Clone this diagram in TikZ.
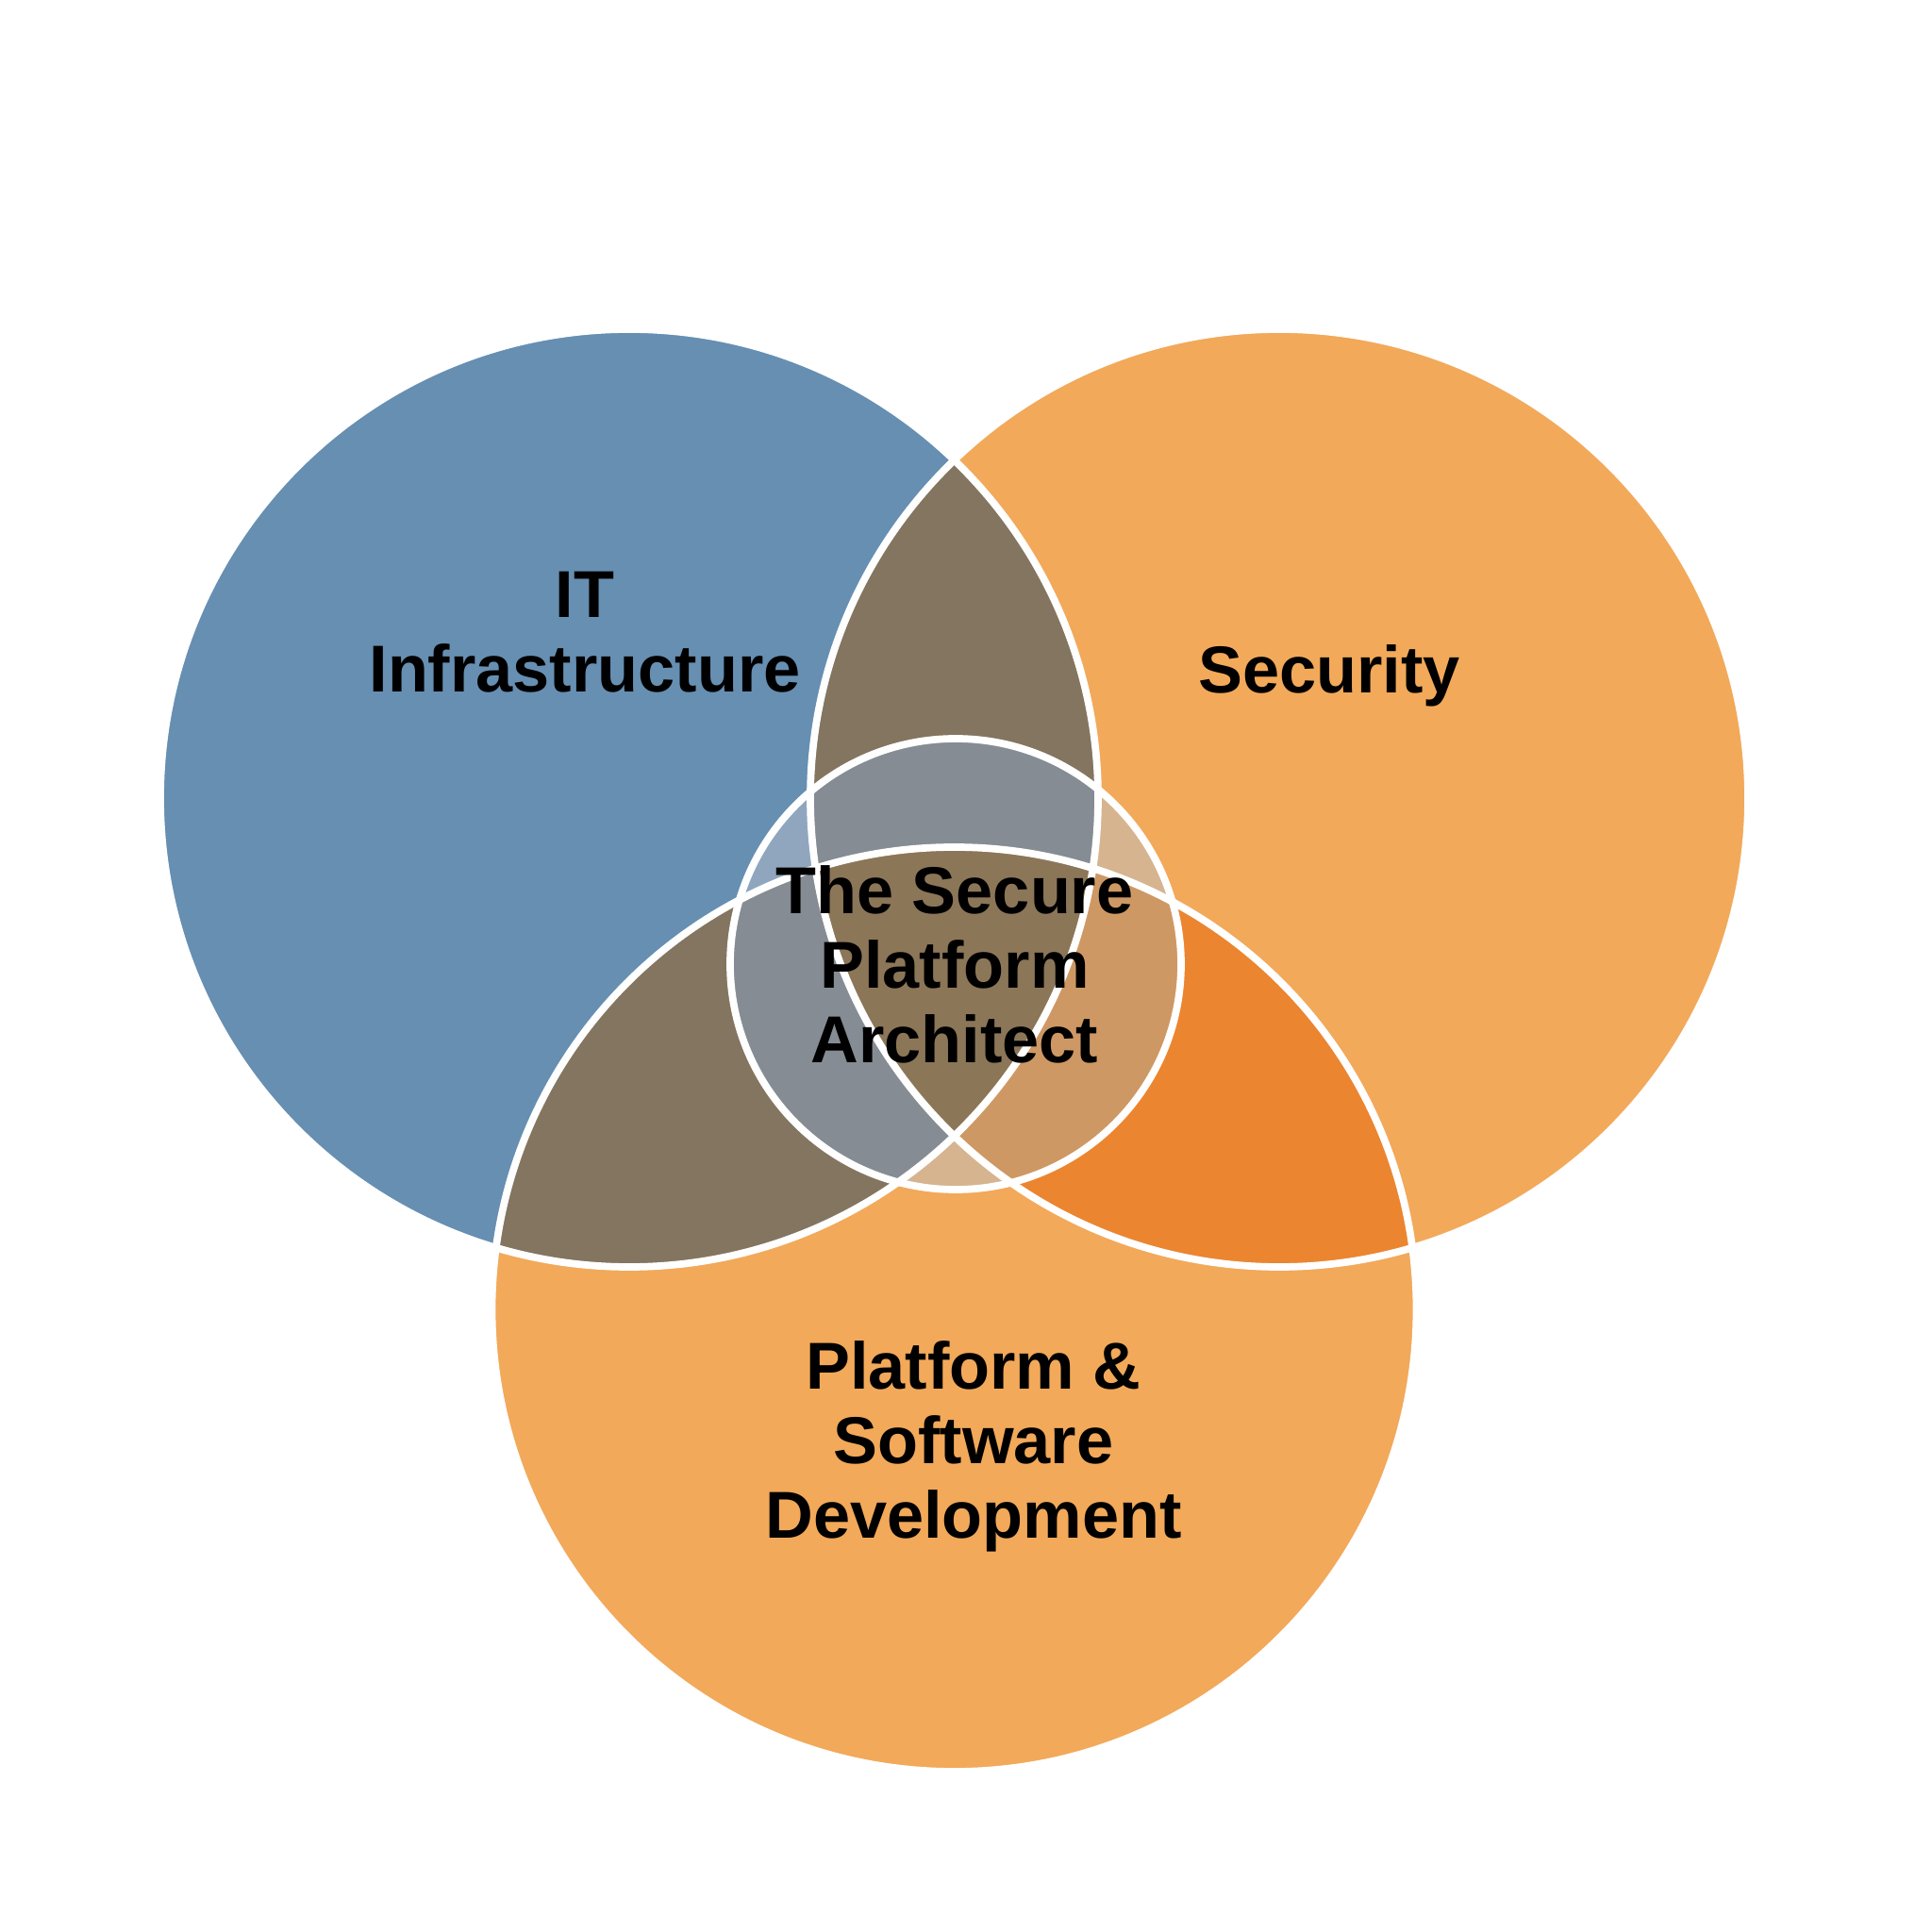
\documentclass[tikz,border=0pt]{standalone}
\usepackage{fontspec}
\setmainfont{Liberation Sans}
\definecolor{infraBlue}{HTML}{668FB2}
\definecolor{secOrange}{HTML}{F2A95A}
\definecolor{lensBrown}{HTML}{837560}
\definecolor{deepOrange}{HTML}{EC8530}
\definecolor{coreBlue}{HTML}{8FA6BE}
\definecolor{coreGray}{HTML}{868C93}
\definecolor{coreTan}{HTML}{D6B48F}
\definecolor{coreAmber}{HTML}{CE9864}
\definecolor{coreBrown}{HTML}{8C7658}
\tikzset{rim/.style={draw=white, line width=2.2pt}}
\tikzset{vennText/.style={font=\bfseries\fontsize{20pt}{22.5pt}\selectfont, align=center, inner sep=0pt, text=black}}

\begin{document}
\begin{tikzpicture}
\useasboundingbox (0,0) rectangle (20.48,20.48);
\def\bigR{4.97}
\def\botR{4.90}
\def\coreR{2.39}
\coordinate (I) at (6.67,12.02);
\coordinate (S) at (13.56,12.02);
\coordinate (P) at (10.115,6.60);
\coordinate (C) at (10.13,10.26);
\fill[infraBlue] (I) circle (\bigR);
\fill[secOrange] (S) circle (\bigR);
\fill[secOrange] (P) circle (\botR);
\begin{scope}
\clip (I) circle (\bigR);
\fill[lensBrown] (S) circle (\bigR);
\fill[lensBrown] (P) circle (\botR);
\end{scope}
\begin{scope}
\clip (S) circle (\bigR);
\fill[deepOrange] (P) circle (\botR);
\end{scope}
%\fill[white, opacity=.3] (C) circle (\coreR);
\begin{scope}
\clip (C) circle (\coreR);
\fill[coreBlue] (I) circle (\bigR);
\fill[coreTan] (S) circle (\bigR);
\fill[coreTan] (P) circle (\botR);
\begin{scope}
\clip (I) circle (\bigR);
\fill[coreGray] (S) circle (\bigR);
\fill[coreGray] (P) circle (\botR);
\end{scope}
\begin{scope}
\clip (S) circle (\bigR);
\fill[coreAmber] (P) circle (\botR);
\clip (I) circle (\bigR);
\fill[coreBrown] (P) circle (\botR);
\end{scope}
\end{scope}
\draw[rim] (I) circle (\bigR);
\draw[rim] (S) circle (\bigR);
\draw[rim] (P) circle (\botR);
\draw[rim] (C) circle (\coreR);
\node[vennText] (infra) at (6.2,13.78) {IT\\Infrastructure};
\node[vennText] (sec) at (14.09,13.32) {Security};
\node[vennText] (core) at (10.12,10.26) {The Secure\\Platform\\Architect};
\node[vennText] (dev) at (10.32,5.15) {Platform \&\\Software\\Development};
\end{tikzpicture}
\end{document}
